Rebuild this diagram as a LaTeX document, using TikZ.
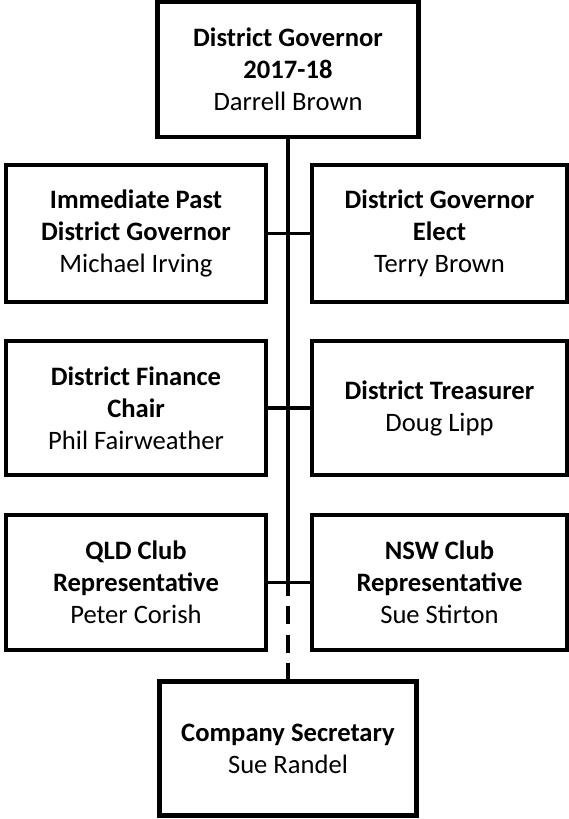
\documentclass[tikz,border=0pt]{standalone}
\usepackage{fontspec}
\setmainfont{Carlito}
\begin{document}
\begin{tikzpicture}[x=1pt,y=-1pt,
  box/.style={draw, line width=4.5pt, inner sep=0pt, align=center,
    font=\fontsize{26.6}{32}\selectfont},
  lbox/.style={box, minimum width=260pt},
  rbox/.style={box, minimum width=255pt},
  link/.style={line width=3.5pt},
  dlink/.style={line width=3.5pt, dash pattern=on 18pt off 10.5pt, dash phase=5pt}]
\useasboundingbox (0,0) rectangle (569,819);
\node[box, minimum width=261pt, minimum height=135pt] (top) at (288,69.5)
  {\textbf{District Governor}\\\textbf{2017-18}\\Darrell Brown};
\node[lbox, minimum height=137pt] (l1) at (136,233.5)
  {\textbf{Immediate Past}\\\textbf{District Governor}\\Michael Irving};
\node[rbox, minimum height=137pt] (r1) at (439.5,233.5)
  {\textbf{District Governor}\\\textbf{Elect}\\Terry Brown};
\node[lbox, minimum height=134pt] (l2) at (136,408)
  {\textbf{District Finance}\\\textbf{Chair}\\Phil Fairweather};
\node[rbox, minimum height=134pt] (r2) at (439.5,408)
  {\textbf{District Treasurer}\\Doug Lipp};
\node[lbox, minimum height=135pt] (l3) at (136,582.5)
  {\textbf{QLD Club}\\\textbf{Representative}\\Peter Corish};
\node[rbox, minimum height=135pt] (r3) at (439.5,582.5)
  {\textbf{NSW Club}\\\textbf{Representative}\\Sue Stirton};
\node[box, minimum width=257pt, minimum height=134pt] (bot) at (288,748.5)
  {\textbf{Company Secretary}\\Sue Randel};
\coordinate (j3) at (top.south |- l3.east);
\draw[link] (top.south) -- (j3);
\draw[link] (l1.east) -- (r1.west);
\draw[link] (l2.east) -- (r2.west);
\draw[link] (l3.east) -- (r3.west);
\draw[dlink] (j3) -- (bot.north);
\end{tikzpicture}
\end{document}
